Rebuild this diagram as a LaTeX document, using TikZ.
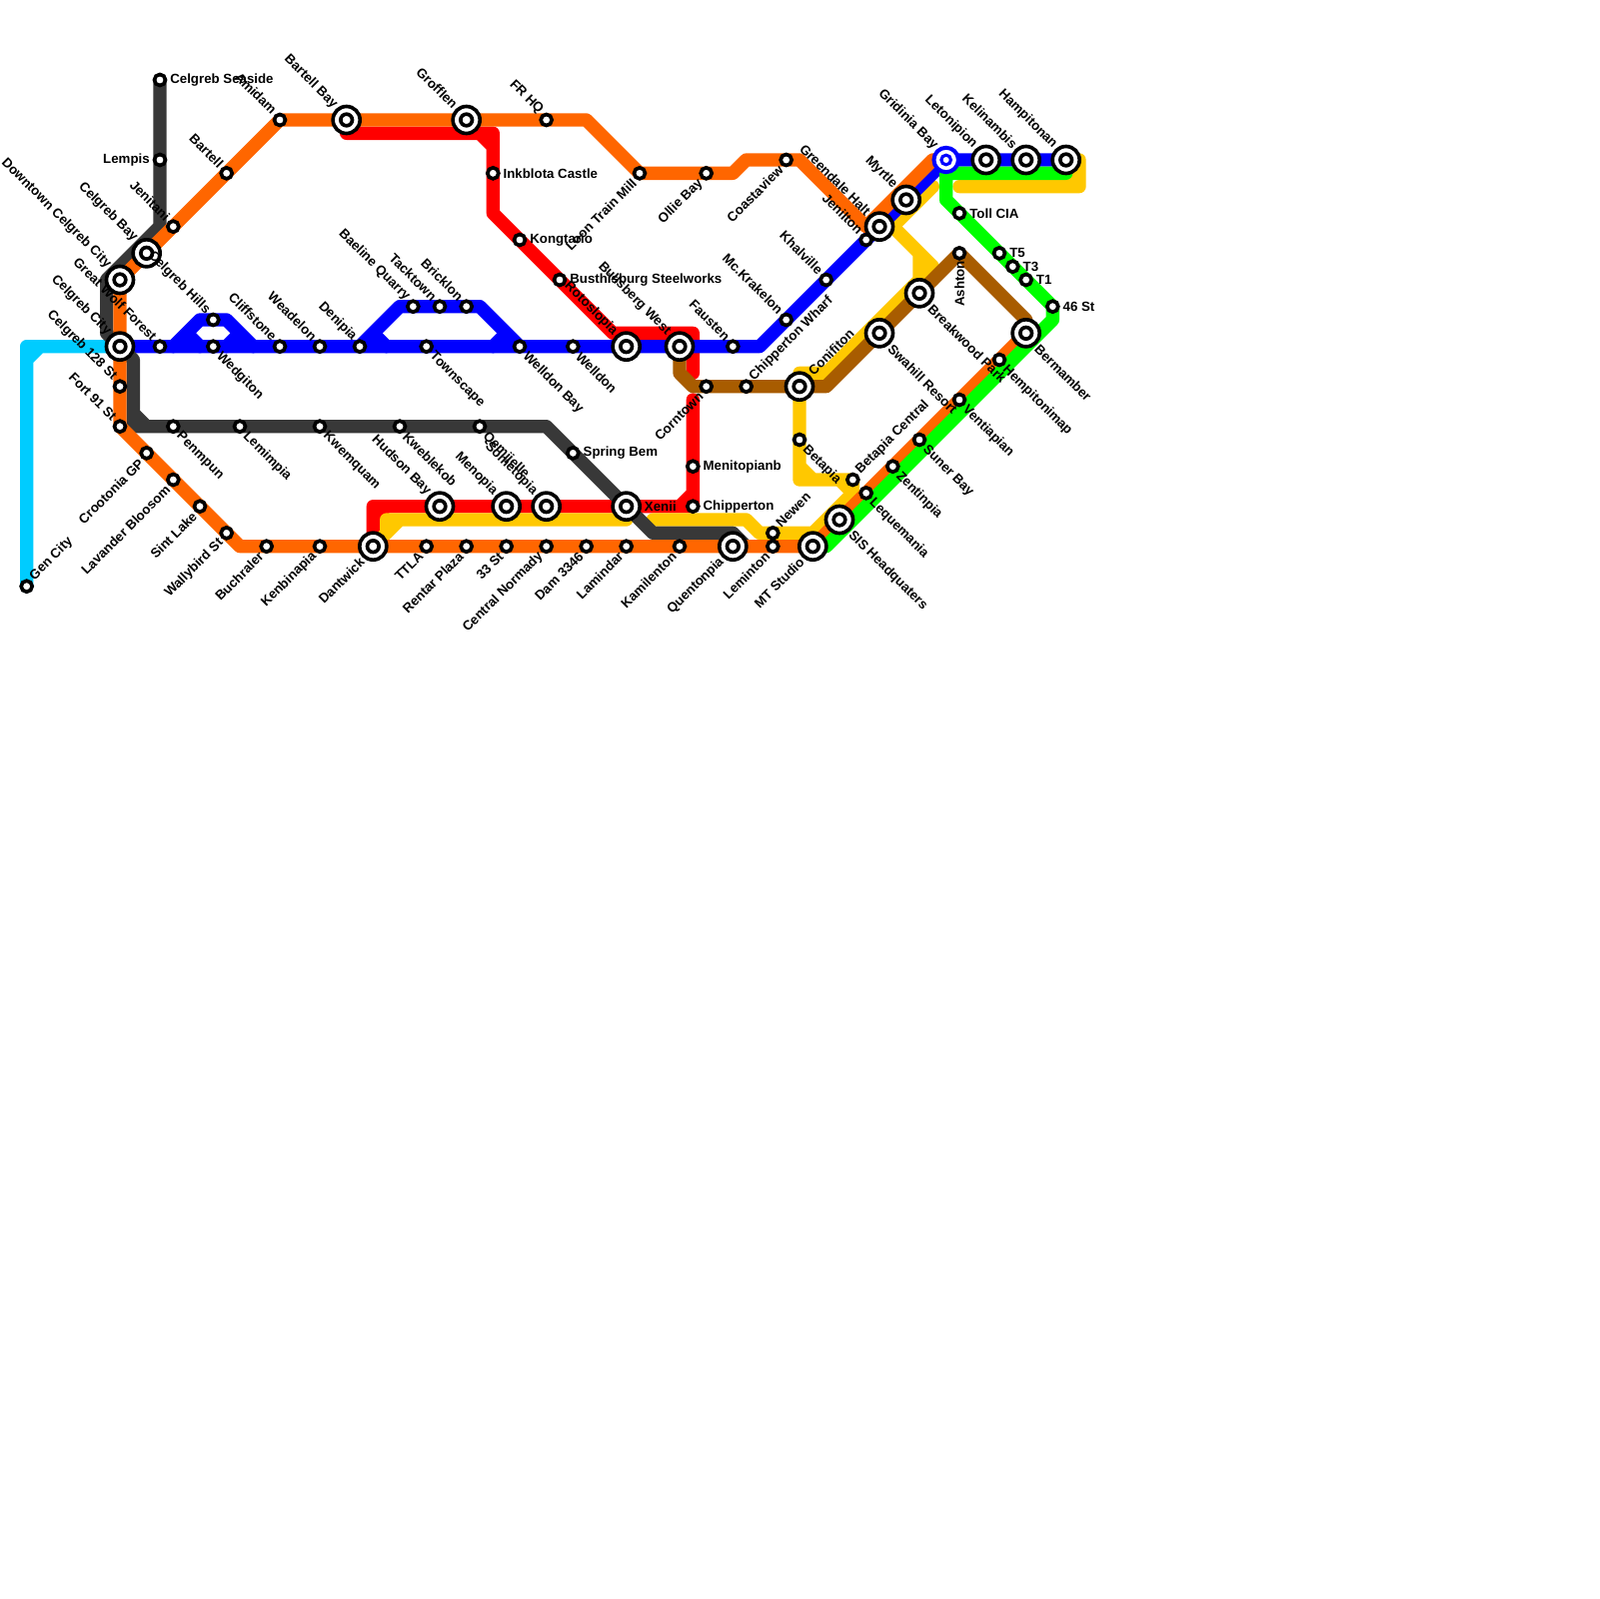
\documentclass[tikz,border=0pt]{standalone}
\usepackage{fontspec}
\setmainfont{Liberation Sans}
\usetikzlibrary{backgrounds}
\definecolor{lineorange}{HTML}{FF6600}
\definecolor{lineblue}{HTML}{0000FF}
\definecolor{linered}{HTML}{FF0000}
\definecolor{linegreen}{HTML}{00FF00}
\definecolor{linecyan}{HTML}{00CCFF}
\definecolor{lineyellow}{HTML}{FFC800}
\definecolor{linebrown}{HTML}{A85C00}
\definecolor{linedark}{HTML}{383838}
\tikzset{
metro/.style={line width=3mm,line cap=round,line join=round},
orangeline/.style={metro,draw=lineorange},
blueline/.style={metro,draw=lineblue},
redline/.style={metro,draw=linered},
greenline/.style={metro,draw=linegreen},
cyanline/.style={metro,draw=linecyan},
yellowline/.style={metro,draw=lineyellow},
brownline/.style={metro,draw=linebrown},
darkline/.style={metro,draw=linedark},
stop/.style={circle,draw=black,fill=white,line width=.82mm,minimum size=2.48mm,inner sep=0pt},
hub/.style={circle,draw=black,fill=white,line width=.82mm,minimum size=6.08mm,inner sep=0pt,
path picture={\draw[line width=.82mm,black] (path picture bounding box.center) circle (1.31mm);}},
bluehub/.style={circle,draw=lineblue,fill=white,line width=.9mm,minimum size=5.5mm,inner sep=0pt,
path picture={\draw[line width=.7mm,lineblue] (path picture bounding box.center) circle (1.08mm);}},
every label/.style={font=\fontsize{8.5}{10}\bfseries\selectfont,text=black,inner sep=0pt},
tagE/.style={label={[anchor=west]0:#1}},
tagW/.style={label={[anchor=east]180:#1}},
tagNE/.style={label={[rotate=45,anchor=west]45:#1}},
tagNW/.style={label={[rotate=-45,anchor=east]135:#1}},
tagSE/.style={label={[rotate=-45,anchor=west]-45:#1}},
tagSW/.style={label={[rotate=45,anchor=east]225:#1}},
tagS/.style={label={[xshift=-.6mm,rotate=90,anchor=east]270:#1}}
}
\begin{document}
\begin{tikzpicture}[x=3mm,y=-3mm,label distance=.6mm]
\useasboundingbox (0,0) rectangle (120,120);
\node[stop,tagE=Celgreb Seaside] (seaside) at (12,6) {};
\node[stop,tagW=Lempis] (lempis) at (12,12) {};
\node[stop,tagNW=Amidam] (amidam) at (21,9) {};
\node[hub,tagNW=Bartell Bay] (bartellbay) at (26,9) {};
\node[stop,tagNW=Bartell] (bartell) at (17,13) {};
\node[stop,tagNW=Jenitani] (jenitani) at (13,17) {};
\node[hub,tagNW=Celgreb Bay] (celgrebbay) at (11,19) {};
\node[hub,tagNW=Downtown Celgreb City] (downtown) at (9,21) {};
\node[stop,tagNW=Celgreb Hills] (hills) at (16,24) {};
\node[stop,tagNW=Great Wolf Forest] (greatwolf) at (12,26) {};
\node[hub,tagNW=Celgreb City] (celgrebcity) at (9,26) {};
\node[stop,tagNW=Celgreb 128 St] (st128) at (9,29) {};
\node[stop,tagNW=Fort 91 St] (fort91) at (9,32) {};
\node[stop,tagSE=Wedgiton] (wedgiton) at (16,26) {};
\node[stop,tagNW=Cliffstone] (cliffstone) at (21,26) {};
\node[stop,tagNW=Weadelon] (weadelon) at (24,26) {};
\node[stop,tagNW=Denipia] (denipia) at (27,26) {};
\node[stop,tagNE=Gen City] (gencity) at (2,44) {};
\node[stop,tagNW=Baeline Quarry] (baeline) at (31,23) {};
\node[stop,tagNW=Tacktown] (tacktown) at (33,23) {};
\node[stop,tagNW=Bricklon] (bricklon) at (35,23) {};
\node[stop,tagSE=Townscape] (townscape) at (32,26) {};
\node[stop,tagSE=Welldon Bay] (welldonbay) at (39,26) {};
\node[stop,tagSE=Welldon] (welldon) at (43,26) {};
\node[hub,tagNW=Rotoslopia] (rotoslopia) at (47,26) {};
\node[hub,tagNW=Bullsberg West] (bullsberg) at (51,26) {};
\node[stop,tagNW=Fausten] (fausten) at (55,26) {};
\node[stop,tagNE=Chipperton Wharf] (wharf) at (56,29) {};
\node[stop,tagSW=Corntown] (corntown) at (53,29) {};
\node[stop,tagNW=Mc.Krakelon] (krakelon) at (59,24) {};
\node[stop,tagNW=Khalville] (khalville) at (62,21) {};
\node[stop,tagNW=Jenilton] (jenilton) at (65,18) {};
\node[hub,tagNW=Greendale Halt] (greendale) at (66,17) {};
\node[stop,tagSW=Coastaview] (coastaview) at (59,12) {};
\node[stop,tagSW=Ollie Bay] (olliebay) at (53,13) {};
\node[stop,tagSW=Loon Train Mill] (loon) at (48,13) {};
\node[stop,tagNW=FR HQ] (frhq) at (41,9) {};
\node[hub,tagNW=Grofflen] (grofflen) at (35,9) {};
\node[stop,tagE=Inkblota Castle] (inkblota) at (37,13) {};
\node[stop,tagE=Kongtario] (kongtario) at (39,18) {};
\node[stop,tagE=Busthisburg Steelworks] (busthisburg) at (42,21) {};
\node[hub,tagNW=Myrtle] (myrtle) at (68,15) {};
\node[bluehub,tagNW=Gridinia Bay] (gridinia) at (71,12) {};
\node[hub,tagNW=Letonipion] (letonipion) at (74,12) {};
\node[hub,tagNW=Kelinambis] (kelinambis) at (77,12) {};
\node[hub,tagNW=Hampitonan] (hampitonan) at (80,12) {};
\node[stop,tagE=Toll CIA] (tollcia) at (72,16) {};
\node[stop,tagE=T5] (tfive) at (75,19) {};
\node[stop,tagE=T3] (tthree) at (76,20) {};
\node[stop,tagE=T1] (tone) at (77,21) {};
\node[stop,tagE=46 St] (st46) at (79,23) {};
\node[stop,tagS=Ashton] (ashton) at (72,19) {};
\node[hub,tagSE=Breakwood Park] (breakwood) at (69,22) {};
\node[hub,tagSE=Swahill Resort] (swahill) at (66,25) {};
\node[hub,tagSE=Bermamber] (bermamber) at (77,25) {};
\node[stop,tagSE=Hempitonimap] (hempitonimap) at (75,27) {};
\node[stop,tagSE=Ventiapian] (ventiapian) at (72,30) {};
\node[hub,tagNE=Conifiton] (conifiton) at (60,29) {};
\node[stop,tagSE=Betapia] (betapia) at (60,33) {};
\node[stop,tagNE=Betapia Central] (betapiacentral) at (64,36) {};
\node[stop,tagSE=Suner Bay] (sunerbay) at (69,33) {};
\node[stop,tagSE=Zentinpia] (zentinpia) at (67,35) {};
\node[stop,tagSE=Lequemania] (lequemania) at (65,37) {};
\node[hub,tagSE=SIS Headquaters] (sis) at (63,39) {};
\node[hub,tagSW=MT Studio] (mtstudio) at (61,41) {};
\node[stop,tagNE=Newen] (newen) at (58,40) {};
\node[stop,tagSW=Leminton] (leminton) at (58,41) {};
\node[hub,tagSW=Quentonpia] (quentonpia) at (55,41) {};
\node[stop,tagSW=Kamilenton] (kamilenton) at (51,41) {};
\node[stop,tagE=Menitopianb] (menitopianb) at (52,35) {};
\node[stop,tagE=Chipperton] (chipperton) at (52,38) {};
\node[stop,tagSW=Lamindar] (lamindar) at (47,41) {};
\node[stop,tagSW=Dam 3346] (dam) at (44,41) {};
\node[stop,tagSW=Central Normady] (normady) at (41,41) {};
\node[stop,tagSW=33 St] (st33) at (38,41) {};
\node[stop,tagSW=Rentar Plaza] (rentar) at (35,41) {};
\node[stop,tagSW=TTLA] (ttla) at (32,41) {};
\node[hub,tagSW=Dantwick] (dantwick) at (28,41) {};
\node[stop,tagSW=Kenbinapia] (kenbinapia) at (24,41) {};
\node[stop,tagSW=Buchraler] (buchraler) at (20,41) {};
\node[stop,tagSW=Wallybird St] (wallybird) at (17,40) {};
\node[stop,tagSW=Sint Lake] (sintlake) at (15,38) {};
\node[stop,tagSW=Lavander Bloosom] (lavander) at (13,36) {};
\node[stop,tagSW=Crootonia GP] (crootonia) at (11,34) {};
\node[stop,tagSE=Penmpun] (penmpun) at (13,32) {};
\node[stop,tagSE=Lemimpia] (lemimpia) at (18,32) {};
\node[stop,tagSE=Kwemquam] (kwemquam) at (24,32) {};
\node[stop,tagSE=Kweblekob] (kweblekob) at (30,32) {};
\node[stop,tagSE=Qemijelle] (qemijelle) at (36,32) {};
\node[stop,tagE=Spring Bem] (springbem) at (43,34) {};
\node[hub,tagNW=Hudson Bay] (hudson) at (33,38) {};
\node[hub,tagNW=Menopia] (menopia) at (38,38) {};
\node[hub,tagNW=Sometopia] (sometopia) at (41,38) {};
\node[hub,tagE=Xenii] (xenii) at (47,38) {};
\foreach \n/\x/\y in {cyA/2/26,cyB/3/26,cyC/2/27,
  rdA/26/10,rdB/37/10,rdC/36/10,rdD/37/11,rdE/37/16,rdF/46/25,rdG/52/25,rdH/52/28,rdI/52/30,rdJ/52/37,rdK/51/38,rdL/28/38,rdM/29/38,rdN/28/39,
  ylB/29/40,ylC/29/39,ylD/47/39,ylE/30/39,ylF/49/39,ylG/56/39,ylH/57/40,ylI/61/40,ylJ/64/37,ylK/60/36,ylL/60/28,ylM/62/28,ylN/69/21,ylO/69/19,ylP/67/17,ylQ/70/14,ylR/70/20,ylS/70/21,ylT/72/14,ylU/81/14,ylV/81/12,ylW/61/36,ylX/60/35,ylY/63/36,yla/81/13,ylb/80/14,
  blA/57/26,blB/13/26,blC/15/24,blD/17/24,blE/19/26,blF/14/25,blG/15/26,blH/18/25,blI/17/26,blJ/30/23,blK/36/23,blL/28/25,blM/29/26,blN/38/25,blO/37/26,
  bkA/12/17,bkB/8/21,bkC/8/25,bkD/10/27,bkE/10/32,bkF/41/32,bkG/49/40,bkH/55/40,bkI/56/41,bkJ/10/31,bkK/11/32,
  orA/44/9,orB/55/13,orC/56/12,orD/60/12,orE/65/17,orF/70/12,orH/18/41,
  brA/51/28,brB/52/29,brC/62/29,brD/77/24,
  grA/71/13,grB/80/13,grC/71/15,grD/79/24,grE/62/41}
  \coordinate (\n) at (\x,\y);
\begin{scope}[on background layer]
\draw[cyanline] (celgrebcity.center) -- (cyA) -- (gencity.center) (cyB) -- (cyC);
\draw[redline] (bartellbay.center) -- (rdA) -- (rdB) -- (inkblota.center) -- (rdE) -- (kongtario.center) -- (busthisburg.center) -- (rdF) -- (rdG) -- (rdH) (rdC) -- (rdD);
\draw[redline] (rdI) -- (menitopianb.center) -- (chipperton.center) -- (xenii.center) -- (sometopia.center) -- (menopia.center) -- (hudson.center) -- (rdL) -- (dantwick.center) (rdJ) -- (rdK) (rdM) -- (rdN);
\draw[yellowline] (dantwick.center) -- (ylB) -- (ylC) -- (ylD) (ylE) -- (ylB);
\draw[yellowline] (ylF) -- (ylG) -- (ylH) -- (newen.center) -- (ylI) -- (ylJ) -- (betapiacentral.center) -- (ylK) -- (betapia.center) -- (conifiton.center) -- (ylL) -- (ylM) -- (ylN) -- (ylO) -- (ylP) -- (ylQ) (ylP) -- (ylR) -- (ylS) (ylW) -- (ylX) (ylY) -- (ylJ);
\draw[yellowline] (ylT) -- (ylU) -- (ylV) -- (hampitonan.center) (yla) -- (ylb);
\draw[blueline] (celgrebcity.center) -- (greatwolf.center) -- (wedgiton.center) -- (cliffstone.center) -- (weadelon.center) -- (denipia.center) -- (townscape.center) -- (welldonbay.center) -- (welldon.center) -- (rotoslopia.center) -- (bullsberg.center) -- (fausten.center) -- (blA) -- (krakelon.center) -- (khalville.center) -- (jenilton.center) -- (greendale.center) -- (myrtle.center) -- (gridinia.center) -- (letonipion.center) -- (kelinambis.center) -- (hampitonan.center);
\draw[blueline] (blB) -- (blC) -- (hills.center) -- (blD) -- (blE) (blF) -- (blG) (blH) -- (blI);
\draw[blueline] (denipia.center) -- (blJ) -- (baeline.center) -- (tacktown.center) -- (bricklon.center) -- (blK) -- (welldonbay.center) (blL) -- (blM) (blN) -- (blO);
\draw[darkline] (seaside.center) -- (lempis.center) -- (bkA) -- (bkB) -- (bkC) -- (bkD) -- (bkE) -- (penmpun.center) -- (lemimpia.center) -- (kwemquam.center) -- (kweblekob.center) -- (qemijelle.center) -- (bkF) -- (springbem.center) -- (xenii.center) -- (bkG) -- (bkH) -- (bkI) (bkJ) -- (bkK);
\draw[orangeline] (gridinia.center) -- (orF) -- (orE) -- (orD) -- (coastaview.center) -- (orC) -- (orB) -- (olliebay.center) -- (loon.center) -- (orA) -- (frhq.center) -- (grofflen.center) -- (bartellbay.center) -- (amidam.center) -- (bartell.center) -- (jenitani.center) -- (celgrebbay.center) -- (downtown.center) -- (celgrebcity.center) -- (st128.center) -- (fort91.center) -- (crootonia.center) -- (lavander.center) -- (sintlake.center) -- (wallybird.center) -- (orH) -- (buchraler.center) -- (kenbinapia.center) -- (dantwick.center) -- (ttla.center) -- (rentar.center) -- (st33.center) -- (normady.center) -- (dam.center) -- (lamindar.center) -- (kamilenton.center) -- (quentonpia.center) -- (leminton.center) -- (mtstudio.center) -- (sis.center) -- (lequemania.center) -- (zentinpia.center) -- (sunerbay.center) -- (ventiapian.center) -- (hempitonimap.center) -- (bermamber.center);
\draw[brownline] (bullsberg.center) -- (brA) -- (brB) -- (corntown.center) -- (wharf.center) -- (conifiton.center) -- (brC) -- (swahill.center) -- (breakwood.center) -- (ashton.center) -- (brD) -- (bermamber.center);
\draw[greenline] (grB) -- (grA) -- (grC) -- (tollcia.center) -- (tfive.center) -- (tthree.center) -- (tone.center) -- (st46.center) -- (grD) -- (grE) -- (mtstudio.center);
\end{scope}
\end{tikzpicture}
\end{document}
